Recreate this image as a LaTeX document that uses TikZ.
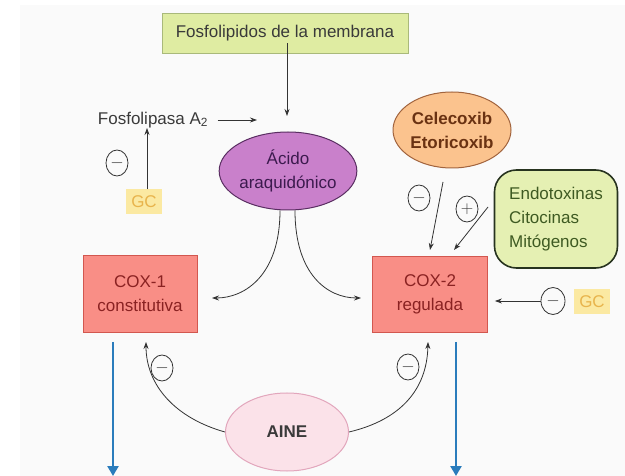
\documentclass[tikz,border=0pt]{standalone}
\usepackage{fontspec}
\setmainfont{Liberation Sans}
\usetikzlibrary{arrows.meta,shapes.geometric}
\definecolor{boxgreen}{HTML}{DFECA2}
\definecolor{boxgreenb}{HTML}{A9B97A}
\definecolor{txtgray}{HTML}{3A3A3A}
\definecolor{purplef}{HTML}{C980CB}
\definecolor{purpleb}{HTML}{5A2E62}
\definecolor{purplet}{HTML}{3C1A4E}
\definecolor{oranf}{HTML}{FBC38E}
\definecolor{oranb}{HTML}{A2643E}
\definecolor{orant}{HTML}{6A3212}
\definecolor{endof}{HTML}{E5F0B3}
\definecolor{endob}{HTML}{27331F}
\definecolor{endot}{HTML}{3E5A22}
\definecolor{coxf}{HTML}{F98E86}
\definecolor{coxb}{HTML}{D2574F}
\definecolor{coxt}{HTML}{8A2222}
\definecolor{gcf}{HTML}{FBE9A2}
\definecolor{gct}{HTML}{E8B44C}
\definecolor{ainef}{HTML}{FBE2E9}
\definecolor{aineb}{HTML}{E2A6BC}
\definecolor{blueA}{HTML}{2A7CBC}
\definecolor{lineg}{HTML}{333333}
\tikzset{
  every node/.style={font=\fontsize{17}{24}\selectfont, text=txtgray},
  rbox/.style={draw, rectangle, line width=0.8pt, align=center, inner sep=0pt},
  eli/.style={draw, ellipse, line width=1pt, align=center, inner sep=0pt},
  sign/.style={draw=lineg, ellipse, line width=0.8pt, minimum width=22pt, minimum height=26pt, inner sep=0pt, font=\fontsize{16}{16}\selectfont},
  gcbox/.style={rectangle, fill=gcf, text=gct, minimum width=36pt, minimum height=25pt, inner sep=0pt},
  arr/.style={draw=lineg, line width=0.8pt, -{Stealth[length=7pt,width=5pt]}},
  bluearr/.style={draw=blueA, line width=2.4pt, -{Triangle[length=10pt,width=11pt]}},
}
\begin{document}
\begin{tikzpicture}[x=1pt,y=-1pt]
\useasboundingbox (0,0) rectangle (625,476);
\fill[white] (0,0) rectangle (625,476);
\fill[black!2] (20,5) rectangle (625,476);

% nodes
\node[rbox, fill=boxgreen, draw=boxgreenb, minimum width=246pt, minimum height=40pt] (fos) at (285,33) {Fosfolipidos de la membrana};
\node (pla) at (153,120) {Fosfolipasa A\textsubscript{2}};
\coordinate (plaend) at (257,120);
\node[eli, fill=purplef, draw=purpleb, text=purplet, minimum width=123pt, minimum height=78pt] (aa) at (288,171) {Ácido\\araquidónico};
\node[gcbox] (gc1) at (144,202) {GC};
\node[sign] (s1) at (117,163) {$-$};
\node[eli, fill=oranf, draw=oranb, text=orant, minimum width=118pt, minimum height=76pt, font=\fontsize{17}{24}\selectfont\bfseries] (cel) at (452,130) {Celecoxib\\Etoricoxib};
\node[rbox, rounded corners=22pt, fill=endof, draw=endob, line width=1.6pt, text=endot, minimum width=123pt, minimum height=98pt, align=left] (endo) at (556,219) {Endotoxinas\\Citocinas\\Mitógenos};
\node[rbox, fill=coxf, draw=coxb, text=coxt, minimum width=114pt, minimum height=77pt] (cox1) at (140,294) {COX-1\\constitutiva};
\node[rbox, fill=coxf, draw=coxb, text=coxt, minimum width=115pt, minimum height=76pt] (cox2) at (430,294) {COX-2\\regulada};
\node[sign] (sm) at (419,198) {$-$};
\node[sign] (sp) at (467,209) {$+$};
\node[sign, minimum width=24pt, minimum height=27pt] (s2) at (553,301) {$-$};
\node[gcbox] (gc2) at (592,302) {GC};
\node[eli, fill=ainef, draw=aineb, minimum width=123pt, minimum height=78pt, font=\fontsize{17}{24}\selectfont\bfseries] (aine) at (287,432) {AINE};
\node[sign] (s3) at (162,368) {$-$};
\node[sign] (s4) at (408,367) {$-$};

% coordinates
\coordinate (celA) at (443,182);
\coordinate (celB) at (430,250);
\coordinate (endA) at (488,207);
\coordinate (endB) at (454,250);
\coordinate (b1) at (113,342);
\coordinate (b1e) at (113,476);
\coordinate (b2) at (456,342);
\coordinate (b2e) at (456,476);

% connectors
\draw[arr] ([yshift=10pt]fos.south -| 287,0) -- (287,116);
\draw[arr] (pla.east) ++(6pt,0) -- (plaend);
\draw[arr] (gc1.north -| 147,0) -- (147,128);
\draw[arr] (aa.south -| 280,0) .. controls (280,275) and (245,298) .. (212,298);
\draw[arr] (aa.south -| 295,0) .. controls (295,275) and (328,298) .. (361,298);
\draw[arr] (celA) -- (celB);
\draw[arr] (endA) -- (endB);
\draw[arr] (s2.west) -- ([xshift=7pt]cox2.east |- s2.west);
\draw[arr] (aine.west) .. controls (175,418) and (146,385) .. (146,342);
\draw[arr] (aine.east) .. controls (400,420) and (427,390) .. (428,342);
\draw[bluearr] (b1) -- (b1e);
\draw[bluearr] (b2) -- (b2e);
\end{tikzpicture}
\end{document}
